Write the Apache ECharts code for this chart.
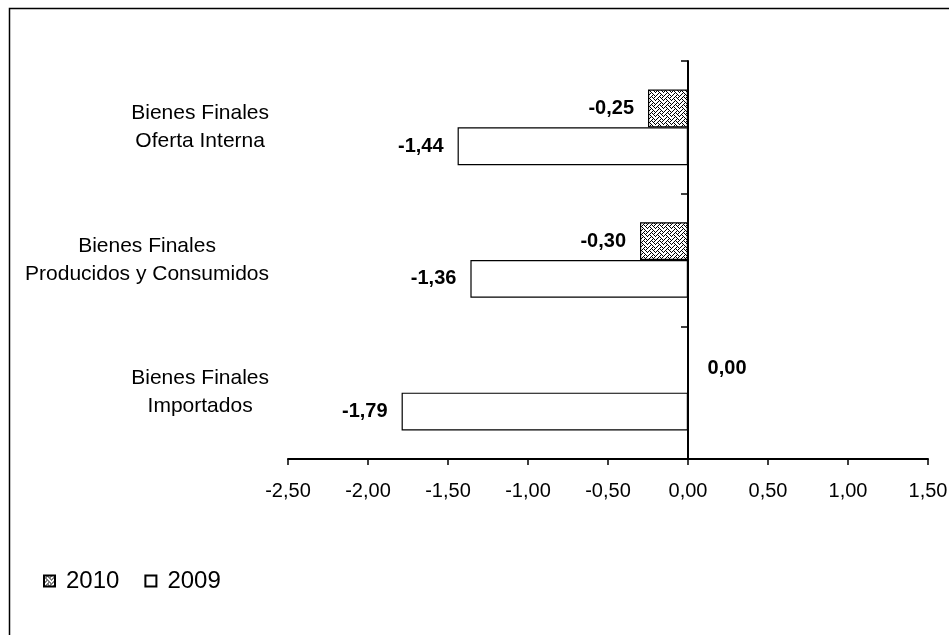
<!DOCTYPE html>
<html><head><meta charset="utf-8">
<script src="https://cdn.jsdelivr.net/npm/echarts@6/dist/echarts.min.js"></script>
<style>html,body{margin:0;padding:0;background:#fff}#c{width:949px;height:635px}</style>
</head><body><div id="c"></div>
<script>
// ---- data ----
const categories = ['Bienes Finales\nImportados', 'Bienes Finales\nProducidos y Consumidos', 'Bienes Finales\nOferta Interna'];
const series2009 = [-1.79, -1.36, -1.44];
const series2010 = [0.00, -0.30, -0.25];
const seriesNames = ['2010', '2009'];
const xMin = -2.5, xMax = 1.5, xInterval = 0.5;

// ---- style helpers ----
const FONT = 'Liberation Sans, Arial, sans-serif';
function fmt(v) { return v.toFixed(2).replace('.', ','); }
function makePattern() {
  const bits = [0x11, 0x2a, 0x44, 0xa2, 0x11, 0x28, 0x44, 0x8a];
  const c = document.createElement('canvas');
  c.width = 8; c.height = 8;
  const ctx = c.getContext('2d');
  ctx.fillStyle = '#fff'; ctx.fillRect(0, 0, 8, 8);
  ctx.fillStyle = '#000';
  for (let r = 0; r < 8; r++) for (let b = 0; b < 8; b++) if (bits[r] & (0x80 >> b)) ctx.fillRect(b, r, 1, 1);
  return c;
}
const pattern = { image: makePattern(), repeat: 'repeat' };

const labelBase = { show: true, fontFamily: FONT, fontSize: 20, fontWeight: 'bold', color: '#000', formatter: p => fmt(p.value) };
function barData(vals) {
  return vals.map(v => v === 0
    ? { value: v, label: { position: 'right', distance: 19, offset: [0, -5] } }
    : { value: v });
}

const chart = echarts.init(document.getElementById('c'), null, { renderer: 'canvas' });
chart.setOption({
  animation: false,
  backgroundColor: '#fff',
  textStyle: { fontFamily: FONT },
  graphic: [{ type: 'rect', left: 7, top: 6, shape: { x: 0, y: 0, width: 1000, height: 1000 }, style: { fill: 'none', stroke: '#000', lineWidth: 1.5 }, silent: true }],
  legend: {
    data: seriesNames, left: 43, top: 569, padding: 0, itemWidth: 11, itemHeight: 11, itemGap: 25,
    icon: 'rect',
    textStyle: { fontFamily: FONT, fontSize: 24, color: '#000', padding: [0, 0, 0, 6] }
  },
  grid: { left: 288, right: 21, top: 61, bottom: 176, containLabel: false, outerBoundsMode: 'none' },
  xAxis: {
    type: 'value', min: xMin, max: xMax, interval: xInterval,
    axisLine: { show: true, lineStyle: { color: '#000', width: 2 } },
    axisTick: { show: true, length: 6, lineStyle: { color: '#000', width: 1.5 } },
    axisLabel: { margin: 22, fontFamily: FONT, fontSize: 20, color: '#000', formatter: v => fmt(v) },
    splitLine: { show: false }
  },
  yAxis: [{
    type: 'category', data: categories, position: 'left',
    axisLine: { show: false, onZero: false },
    axisTick: { show: false },
    splitLine: { show: false },
    axisLabel: {
      margin: 19, color: '#000',
      formatter: v => v.split('\n').map(s => '{c|' + s + '}').join('\n'),
      rich: { c: { align: 'center', fontFamily: FONT, fontSize: 21, lineHeight: 28, color: '#000' } }
    }
  }, {
    type: 'category', data: categories, position: 'right',
    axisLine: { show: true, onZero: true, lineStyle: { color: '#000', width: 2 } },
    axisTick: { show: true, inside: true, length: 7, lineStyle: { color: '#000', width: 1.5 } },
    axisLabel: { show: false },
    splitLine: { show: false }
  }],
  series: [{
    name: '2010', type: 'bar', yAxisIndex: 0, data: barData(series2010),
    barGap: '0%', barCategoryGap: '43%',
    itemStyle: { color: pattern, borderColor: '#000', borderWidth: 1.2 },
    label: Object.assign({}, labelBase, { position: 'left', distance: 14 })
  }, {
    name: '2009', type: 'bar', yAxisIndex: 0, data: barData(series2009),
    barGap: '0%', barCategoryGap: '43%',
    itemStyle: { color: '#fff', borderColor: '#000', borderWidth: 1.2 },
    label: Object.assign({}, labelBase, { position: 'left', distance: 14 })
  }]
});
</script></body></html>
